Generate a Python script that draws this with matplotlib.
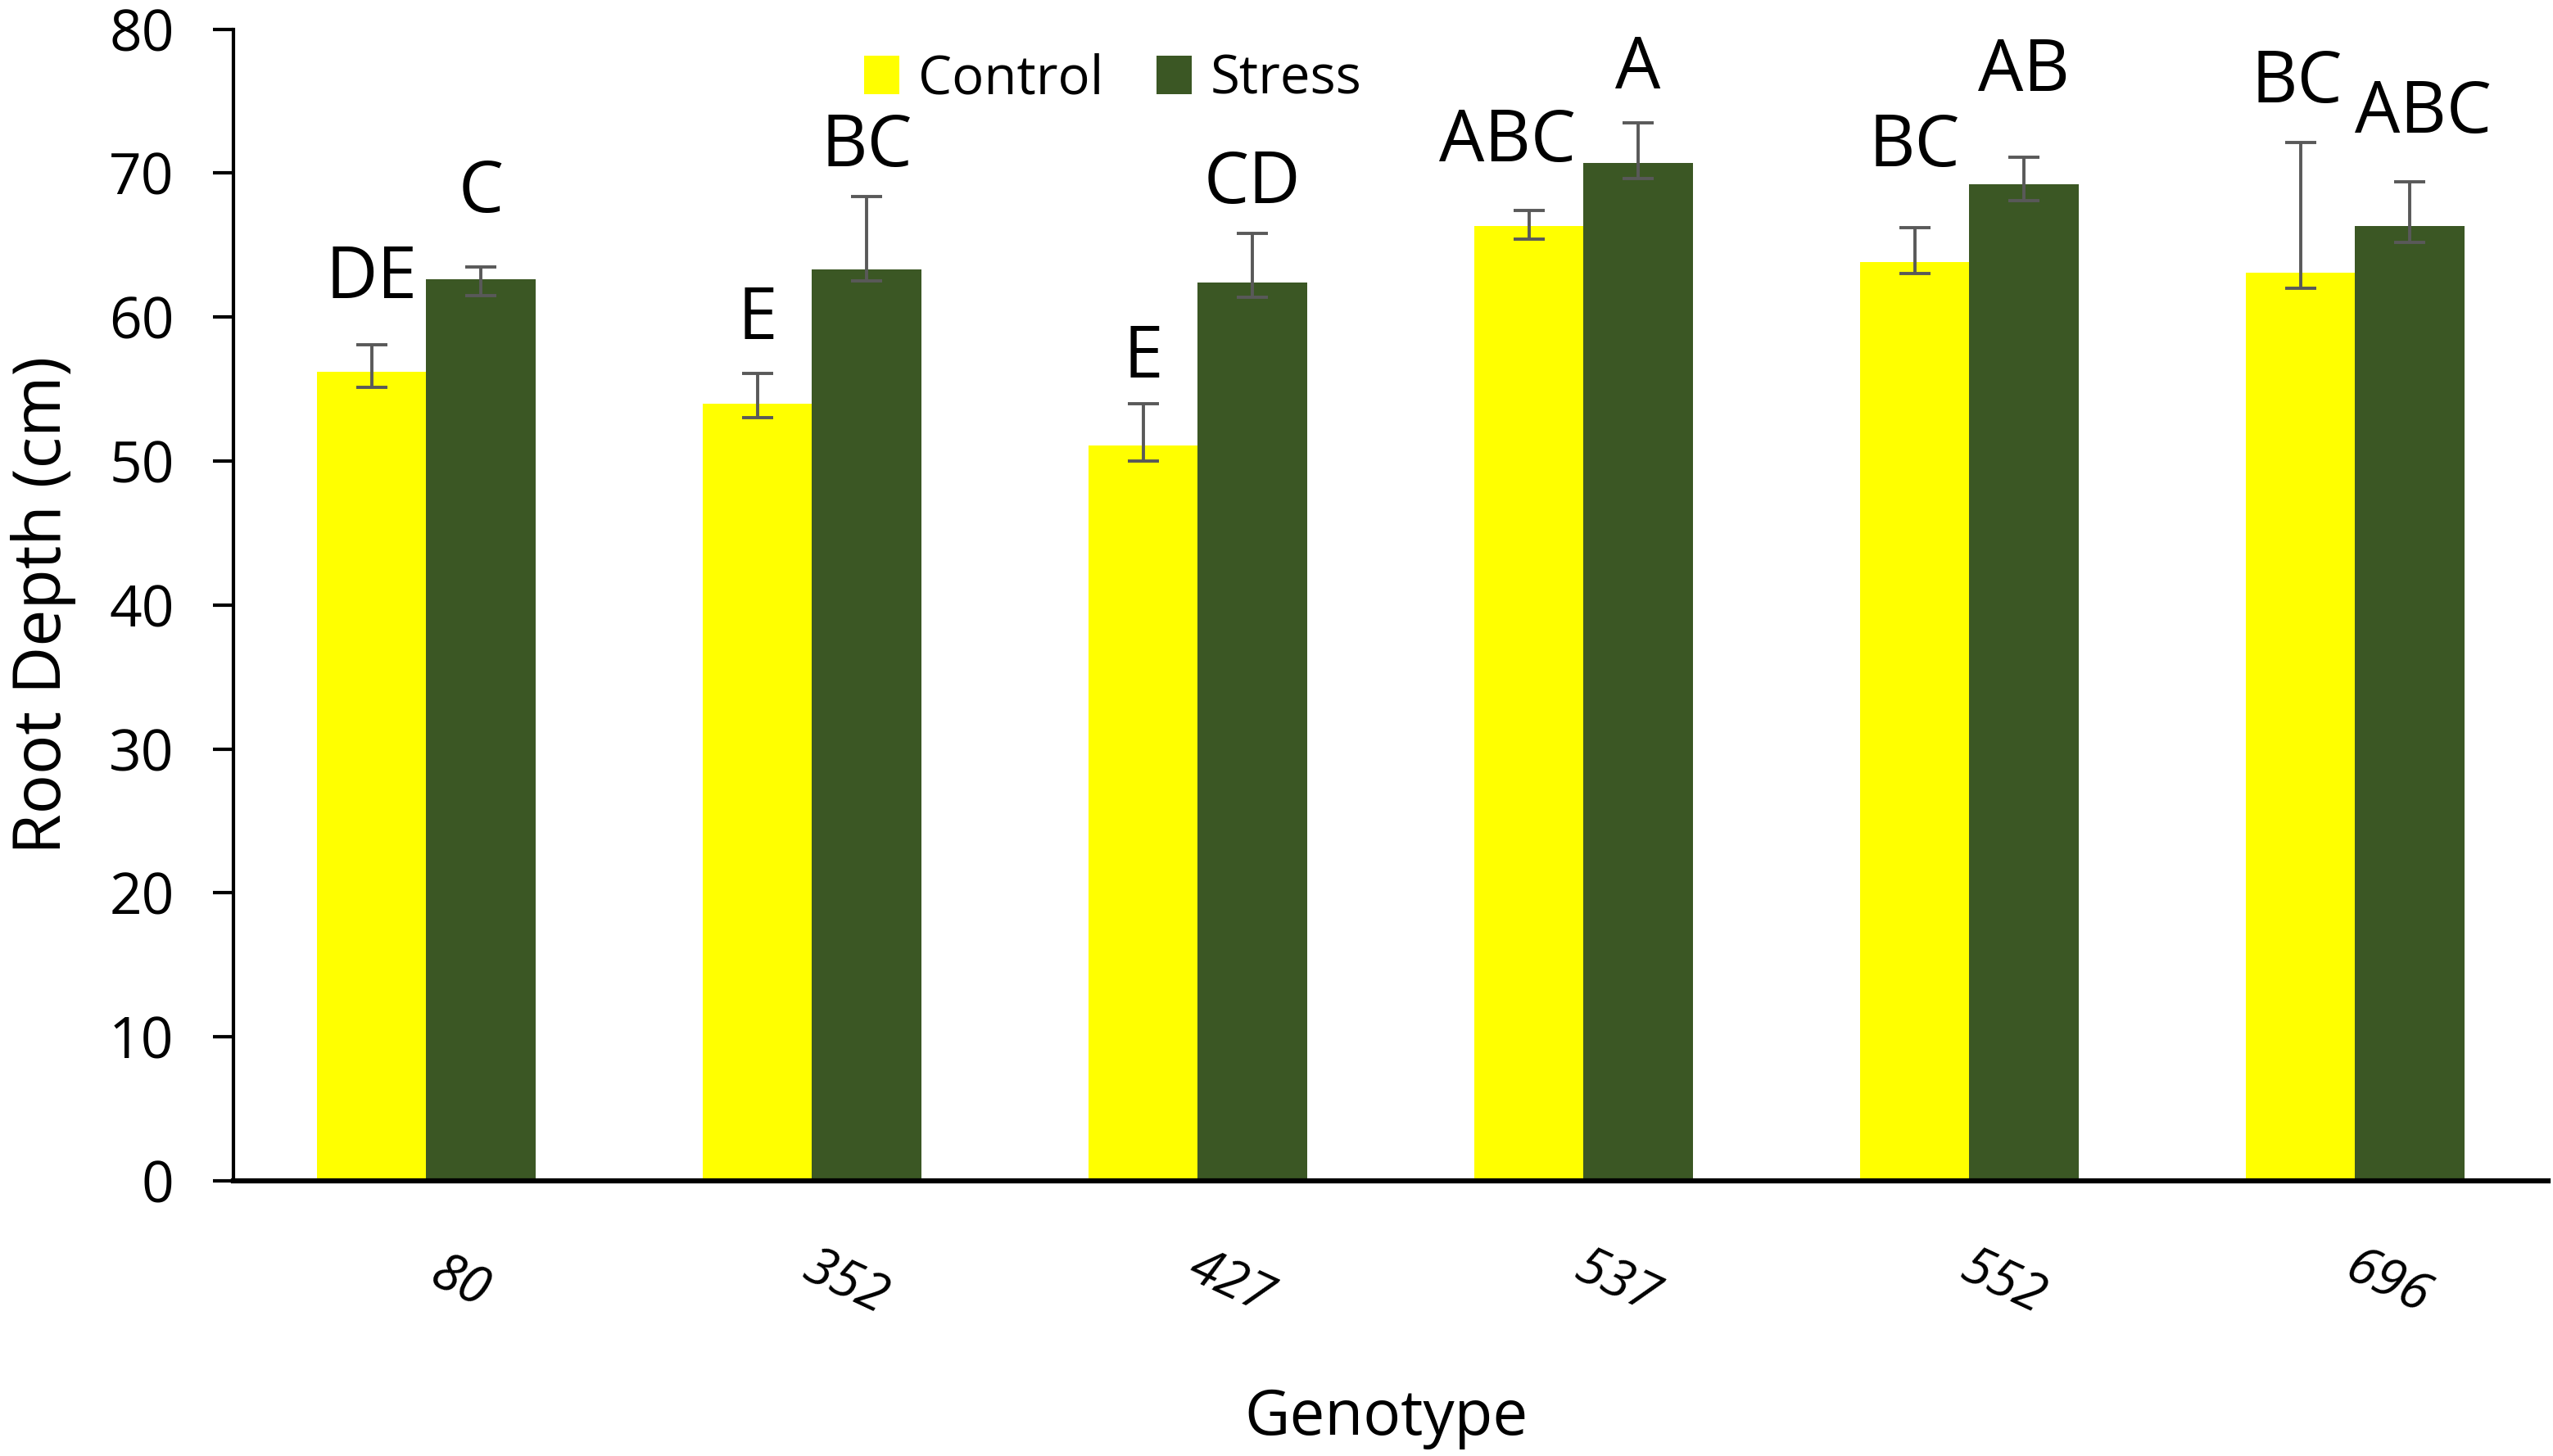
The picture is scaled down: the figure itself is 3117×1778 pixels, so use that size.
import numpy as np
import matplotlib
matplotlib.use("Agg")
from matplotlib import pyplot as plt
from matplotlib.transforms import ScaledTranslation

plt.rcParams['font.family'] = ['Open Sans', 'DejaVu Sans']

# data
genotypes = ['80', '352', '427', '537', '552', '696']
control = [56.2, 54.0, 51.1, 66.3, 63.8, 63.1]
control_up = [1.9, 2.1, 2.9, 1.1, 2.4, 9.0]
control_dn = [1.1, 1.0, 1.1, 0.9, 0.8, 1.1]
stress = [62.6, 63.3, 62.4, 70.7, 69.2, 66.3]
stress_up = [0.9, 5.05, 3.4, 2.8, 1.9, 3.1]
stress_dn = [1.1, 0.8, 1.0, 1.1, 1.1, 1.1]

# significance letters and the height their baseline sits at
control_letters = ['DE', 'E', 'E', 'ABC', 'BC', 'BC']
control_letter_y = [61.3, 58.5, 55.8, 70.8, 70.5, 74.9]
stress_letters = ['C', 'BC', 'CD', 'A', 'AB', 'ABC']
stress_letter_y = [67.3, 70.5, 67.9, 75.9, 75.7, 72.8]
# small sideways nudges so the crowded letters don't overlap
control_letter_dx = [0, 0, 0, -0.055, 0, -0.01]
stress_letter_dx = [0, 0, 0, 0, 0, 0.035]

yellow = '#FFFF00'
green = '#3B5724'
err_col = '#595959'

fig = plt.figure(figsize=(31.17, 17.78), dpi=100)
ax = fig.add_axes([0.0914, 0.189, 0.9066, 0.791])

x = np.arange(len(genotypes))
w = 0.283

ax.bar(x - w / 2, control, w, color=yellow, label='Control', zorder=2)
ax.bar(x + w / 2, stress, w, color=green, label='Stress', zorder=2)

ekw = dict(fmt='none', ecolor=err_col, elinewidth=2.8, capsize=14, capthick=2.8, zorder=3)
ax.errorbar(x - w / 2, control, yerr=[control_dn, control_up], **ekw)
ax.errorbar(x + w / 2, stress, yerr=[stress_dn, stress_up], **ekw)

for i in range(len(genotypes)):
    ax.text(x[i] - w / 2 + control_letter_dx[i], control_letter_y[i], control_letters[i],
            ha='center', va='baseline', fontsize=63)
    ax.text(x[i] + w / 2 + stress_letter_dx[i], stress_letter_y[i], stress_letters[i],
            ha='center', va='baseline', fontsize=63)

ax.set_xlim(-0.5, len(genotypes) - 0.5)
ax.set_ylim(0, 80)
ax.set_yticks(range(0, 81, 10))
ax.tick_params(axis='y', labelsize=50, length=18, width=3, pad=34)
ax.tick_params(axis='x', length=0, pad=90)

ax.set_xticks(x)
ax.set_xticklabels(genotypes, rotation=-25, style='italic', fontsize=46,
                   ha='center', va='center', rotation_mode='anchor')
shift = ScaledTranslation(0.4, 0, fig.dpi_scale_trans)
for lab in ax.get_xticklabels():
    lab.set_transform(lab.get_transform() + shift)

for s in ['top', 'right']:
    ax.spines[s].set_visible(False)
ax.spines['left'].set_linewidth(3)
ax.spines['bottom'].set_linewidth(4.5)

ax.set_ylabel('Root Depth (cm)', fontsize=58)
ax.yaxis.set_label_coords(-0.068, 0.5)
ax.set_xlabel('Genotype', fontsize=55)
ax.xaxis.set_label_coords(0.498, -0.179)

ax.legend(loc='center', bbox_to_anchor=(0.38, 0.956), ncol=2, frameon=False,
          fontsize=47, handlelength=0.66, handleheight=0.72,
          handletextpad=0.35, columnspacing=1.0, borderpad=0)

fig.savefig('out.png', dpi=100)
